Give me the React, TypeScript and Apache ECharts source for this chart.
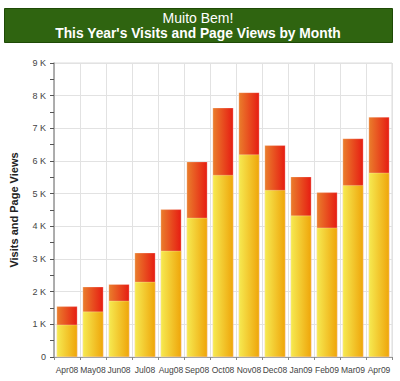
import React, { useEffect, useRef } from "react";
import * as echarts from "echarts";

const months = ["Apr08", "May08", "Jun08", "Jul08", "Aug08", "Sep08", "Oct08", "Nov08", "Dec08", "Jan09", "Feb09", "Mar09", "Apr09"];
const pageViews = [1550, 2150, 2230, 3190, 4520, 5980, 7630, 8100, 6480, 5520, 5040, 6690, 7350];
const visits = [990, 1390, 1720, 2300, 3250, 4260, 5570, 6200, 5110, 4330, 3960, 5260, 5640];
const yTicks = { min: 0, max: 9000, interval: 1000 };

export default function App() {
  const ref = useRef<HTMLDivElement>(null);
  useEffect(() => {
    const chart = echarts.init(ref.current!, null, { renderer: "svg" });
    const font = "'Liberation Sans', Arial, sans-serif";
    chart.setOption({
      animation: false,
      textStyle: { fontFamily: font },
      graphic: [
        {
          type: "rect",
          shape: { x: 4.5, y: 8.5, width: 388, height: 34 },
          style: { fill: "#2f6410", stroke: "#1e4a06", lineWidth: 1 },
          z: 10,
        },
        {
          type: "text",
          x: 198,
          y: 17.5,
          style: { text: "Muito Bem!", fill: "#ffffff", font: `14px ${font}`, textAlign: "center", textVerticalAlign: "middle" },
          z: 11,
        },
        {
          type: "text",
          x: 198,
          y: 33.5,
          style: { text: "This Year's Visits and Page Views by Month", fill: "#ffffff", font: `bold 13.8px ${font}`, textAlign: "center", textVerticalAlign: "middle" },
          z: 11,
        },
      ],
      grid: { left: 50, right: 8, top: 63, bottom: 24, show: true, borderColor: "#dddddd", borderWidth: 1, backgroundColor: "#ffffff" },
      xAxis: {
        type: "category",
        data: months,
        axisLine: { lineStyle: { color: "#999999" } },
        axisTick: { show: true, length: 3, lineStyle: { color: "#888888" } },
        axisLabel: { color: "#444444", fontSize: 8.5, margin: 8, interval: 0 },
        splitLine: { show: true, interval: 0, lineStyle: { color: "#e2e2e2" } },
      },
      yAxis: {
        type: "value",
        min: yTicks.min,
        max: yTicks.max,
        interval: yTicks.interval,
        name: "Visits and Page Views",
        nameLocation: "middle",
        nameGap: 35,
        nameTextStyle: { fontWeight: "bold", fontSize: 11, color: "#222222" },
        axisLine: { show: true, lineStyle: { color: "#999999", width: 1.5 } },
        axisTick: { show: true, length: 4, lineStyle: { color: "#555555" } },
        minorTick: { show: true, splitNumber: 2, length: 4, lineStyle: { color: "#555555" } },
        axisLabel: {
          color: "#444444",
          fontSize: 9,
          margin: 8,
          formatter: (v: number) => (v === 0 ? "0" : `${v / 1000} K`),
        },
        splitLine: { show: true, lineStyle: { color: "#e2e2e2" } },
      },
      series: [
        {
          name: "Page Views",
          type: "bar",
          data: pageViews,
          barCategoryGap: "20%",
          barGap: "-100%",
          itemStyle: {
            color: new echarts.graphic.LinearGradient(0, 0, 1, 0, [
              { offset: 0, color: "#ea7e2c" },
              { offset: 1, color: "#e61c12" },
            ]),
            borderColor: "rgba(255,255,255,0.5)",
            borderWidth: 0.5,
          },
        },
        {
          name: "Visits",
          type: "bar",
          data: visits,
          barCategoryGap: "20%",
          barGap: "-100%",
          itemStyle: {
            color: new echarts.graphic.LinearGradient(0, 0, 1, 0, [
              { offset: 0, color: "#f6ea52" },
              { offset: 1, color: "#efa50a" },
            ]),
            borderColor: "rgba(255,255,255,0.5)",
            borderWidth: 0.5,
          },
        },
      ],
    });
    return () => chart.dispose();
  }, []);
  return <div ref={ref} style={{ width: 400, height: 381, position: "absolute", left: 0, top: 0 }} />;
}
